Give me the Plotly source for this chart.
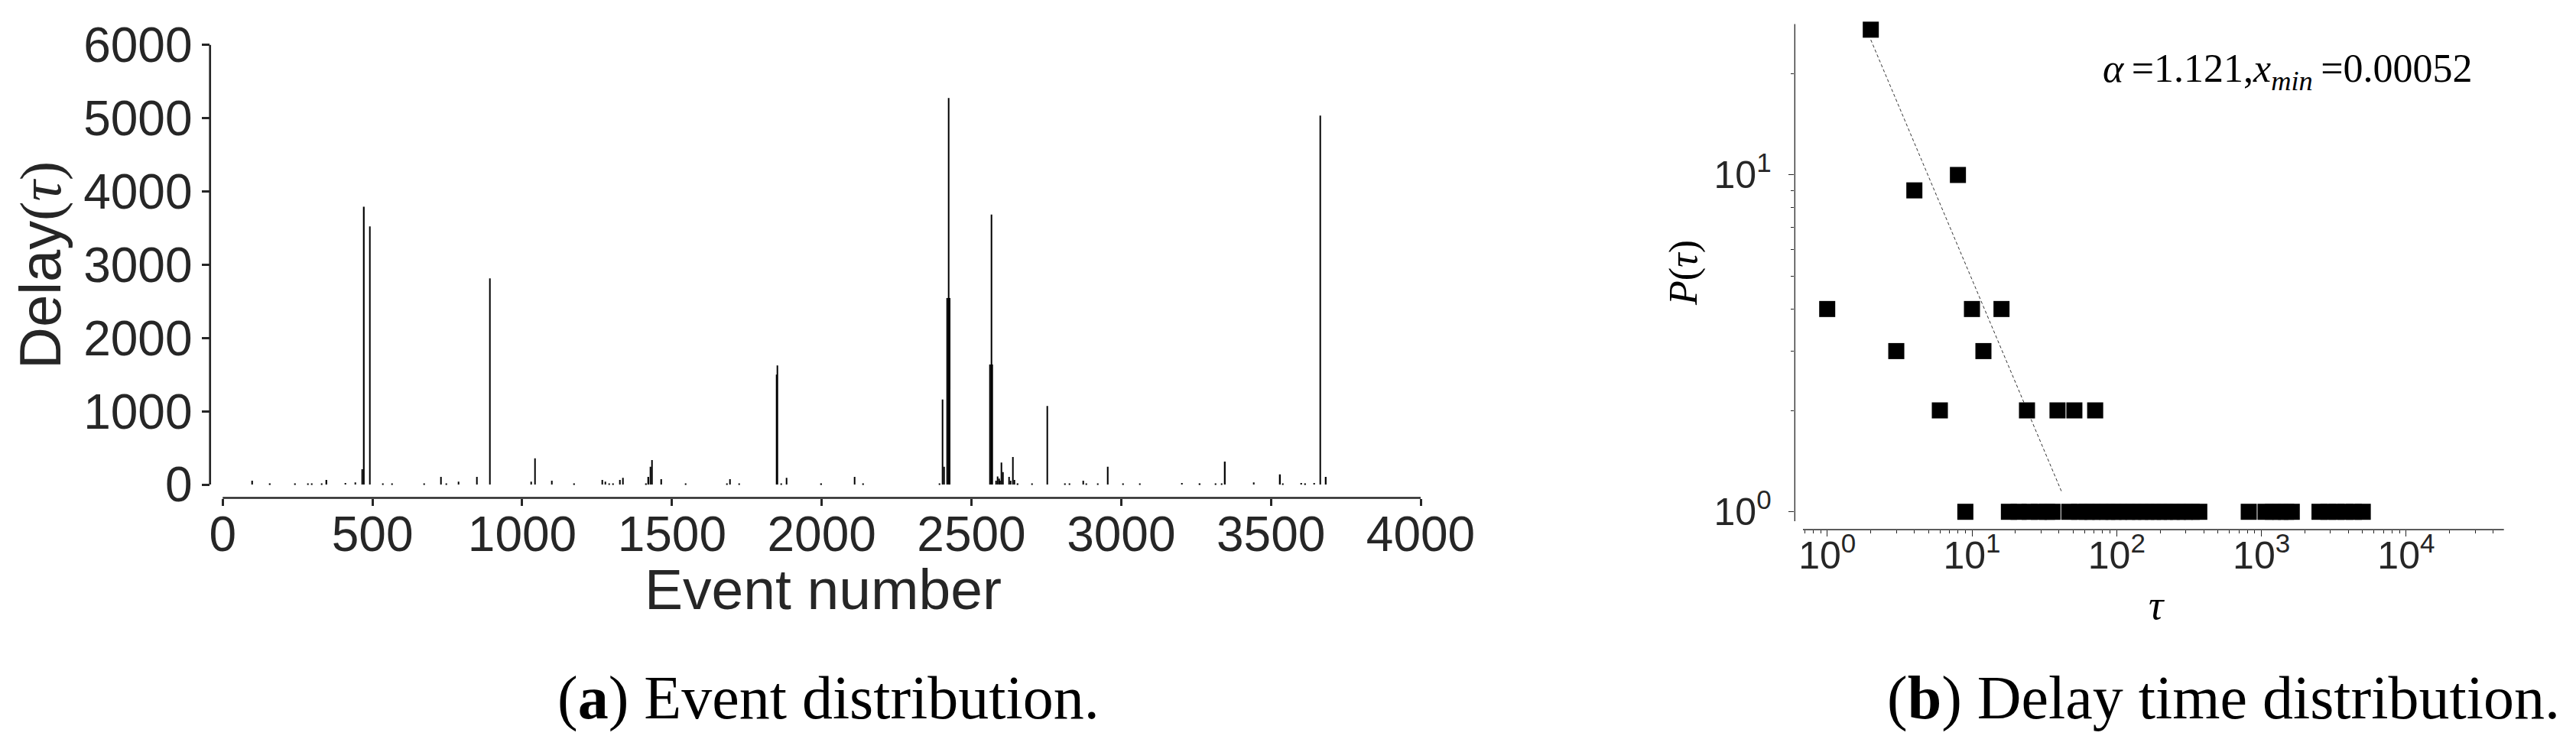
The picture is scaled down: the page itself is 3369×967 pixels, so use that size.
import plotly.graph_objects as go

W, H = 3369, 967

# ---- panel (a): delay per event (only the non-zero events) ----
event_num = [99, 158, 242, 285, 298, 331, 347, 409, 442, 465, 472, 492, 535, 565, 673,
             728, 747, 788, 848, 892, 1030, 1042, 1099, 1174, 1267, 1278, 1291, 1304, 1327,
             1336, 1414, 1422, 1428, 1433, 1465, 1545, 1683, 1693, 1724, 1850, 1852, 1865,
             1882, 1999, 2110, 2139, 2393, 2404, 2408, 2420, 2424, 2428, 2563, 2567, 2570,
             2583, 2588, 2592, 2596, 2601, 2605, 2625, 2631, 2639, 2644, 2655, 2702, 2754,
             2813, 2827, 2873, 2884, 2921, 2956, 3007, 3062, 3203, 3263, 3316, 3335, 3347,
             3442, 3531, 3540, 3602, 3615, 3645, 3664, 3684]
delay = [52, 10, 10, 10, 10, 13, 62, 21, 28, 208, 3790, 3521, 10, 10, 10,
         104, 15, 38, 104, 2814, 38, 358, 52, 10, 62, 38, 15, 15, 62,
         90, 15, 104, 243, 334, 73, 10, 15, 73, 10, 1500, 1625, 15,
         90, 10, 104, 10, 15, 1159, 243, 2545, 5275, 2545, 1638, 3684, 1638,
         52, 110, 80, 52, 299, 170, 104, 52, 375, 62, 10, 10, 1072,
         10, 15, 52, 15, 15, 243, 10, 10, 21, 10, 10, 15, 313,
         28, 139, 15, 21, 15, 21, 5033, 104]
x_ticks_a = [0, 500, 1000, 1500, 2000, 2500, 3000, 3500, 4000]
y_ticks_a = [0, 1000, 2000, 3000, 4000, 5000, 6000]

# ---- panel (b): delay time distribution ----
tau = [1, 2, 3, 4, 6, 8, 9, 10, 12, 16, 24, 39, 51, 71,
       18, 21, 25, 29, 33, 36,
       47, 55, 62, 68, 77, 86, 95, 104, 118, 130, 145, 160, 178, 196, 215, 240, 265, 295, 330, 372,
       817, 1067, 1200, 1350, 1480, 1620,
       2518, 2900, 3300, 3800, 4350, 5012]
p_tau = [4, 27, 3, 9, 2, 10, 1, 4, 3, 4, 2, 2, 2, 2,
         1, 1, 1, 1, 1, 1,
         1, 1, 1, 1, 1, 1, 1, 1, 1, 1, 1, 1, 1, 1, 1, 1, 1, 1, 1, 1,
         1, 1, 1, 1, 1, 1,
         1, 1, 1, 1, 1, 1]
fit_tau = [2.0, 41.7]
fit_p = [25.2, 1.145]
x_ticks_b = [1, 10, 100, 1000, 10000]
x_text_b = ["10<sup>0</sup>", "10<sup>1</sup>", "10<sup>2</sup>", "10<sup>3</sup>", "10<sup>4</sup>"]
y_ticks_b = [1, 10]
y_text_b = ["10<sup>0</sup>", "10<sup>1</sup>"]


def fx(px):
    return px / W


def fy(py):
    return 1 - py / H


SANS = "Liberation Sans, Arial, sans-serif"
SERIF = "Liberation Serif, Times New Roman, serif"
DARK = "#262626"

fig = go.Figure()

fig.add_trace(go.Bar(x=event_num, y=delay, width=3.5,
                     marker=dict(color="black", line=dict(width=0)),
                     xaxis="x", yaxis="y"))

# power-law fit line and the measured distribution
fig.add_trace(go.Scatter(x=fit_tau, y=fit_p, mode="lines",
                         line=dict(color="#333333", width=1, dash="4px,3px"),
                         xaxis="x2", yaxis="y2"))
fig.add_trace(go.Scatter(x=tau, y=p_tau, mode="markers", cliponaxis=False,
                         marker=dict(symbol="square", size=21, color="black", line=dict(width=0)),
                         xaxis="x2", yaxis="y2"))

minor_b = [m * 10 ** k for k in range(-1, 5) for m in range(2, 10)]
minor_b = [v for v in minor_b if 0.65 < v < 47000]

common = dict(showline=False, showgrid=False, zeroline=False, automargin=False, ticks="outside",
              tickcolor=DARK)

fig.update_layout(
    width=W, height=H,
    margin=dict(l=0, r=0, t=0, b=0, autoexpand=False),
    paper_bgcolor="white", plot_bgcolor="white",
    showlegend=False,
    xaxis=dict(domain=[fx(266.7), fx(1850)], range=[-42.4, 4000], anchor="y",
               tickvals=x_ticks_a, ticklen=9, tickwidth=2.7, ticklabelstandoff=-17,
               tickfont=dict(family=SANS, size=64, color=DARK), **common),
    yaxis=dict(domain=[fy(643.5), fy(50.6)], range=[-182.5, 6000], anchor="x",
               tickvals=y_ticks_a, ticklen=9.4, tickwidth=2.7,
               tickfont=dict(family=SANS, size=64, color=DARK), **common),
    xaxis2=dict(type="log", domain=[fx(2339.3), fx(3266.7)], range=[-0.224, 4.675], anchor="y2",
                tickvals=x_ticks_b, ticktext=x_text_b, ticklen=7.5, tickwidth=1.3,
                ticklabelstandoff=-18,
                minor=dict(tickvals=minor_b, ticks="outside", ticklen=4, tickwidth=1, tickcolor=DARK),
                tickfont=dict(family=SANS, size=50, color=DARK), **common),
    yaxis2=dict(type="log", domain=[fy(685), fy(23.5)], range=[-0.0529, 1.448], anchor="x2",
                tickvals=y_ticks_b, ticktext=y_text_b, ticklen=7.7, tickwidth=1.3,
                ticklabelstandoff=12,
                minor=dict(tickvals=[2, 3, 4, 5, 6, 7, 8, 9, 20], ticks="outside", ticklen=4,
                           tickwidth=1, tickcolor=DARK),
                tickfont=dict(family=SANS, size=50, color=DARK), **common),
)

# offset spines
fig.add_shape(type="line", xref="paper", yref="y", x0=fx(266.7), x1=fx(266.7), y0=0, y1=6000,
              line=dict(color=DARK, width=2.7))
fig.add_shape(type="line", xref="x", yref="paper", x0=0, x1=4000, y0=fy(643.5), y1=fy(643.5),
              line=dict(color=DARK, width=2.7))
fig.add_shape(type="line", xref="paper", yref="paper", x0=fx(2339.3), x1=fx(2339.3),
              y0=fy(674), y1=fy(23.5), line=dict(color=DARK, width=1.3))
fig.add_shape(type="line", xref="paper", yref="paper", x0=fx(2350), x1=fx(3266.7),
              y0=fy(685), y1=fy(685), line=dict(color=DARK, width=1.3))

ann = [
    dict(text='Delay<span style="font-family:Liberation Serif">(<i>τ</i>)</span>',
         x=fx(45), y=fy(339), textangle=-90, font=dict(family=SANS, size=76, color=DARK)),
    dict(text="Event number", x=fx(1068), y=fy(763), font=dict(family=SANS, size=75, color=DARK)),
    dict(text="(<b>a</b>) Event distribution.", x=fx(1075), y=fy(905),
         font=dict(family=SERIF, size=80, color="black")),
    dict(text="(<b>b</b>) Delay time distribution.", x=fx(2900), y=fy(905),
         font=dict(family=SERIF, size=80, color="black")),
    dict(text="<i>P</i>(<i>τ</i>)", x=fx(2194), y=fy(349), textangle=-90,
         font=dict(family=SERIF, size=52, color="black")),
    dict(text="<i>τ</i>", x=fx(2812), y=fy(784), font=dict(family=SERIF, size=54, color="black")),
    dict(text="<i>α</i>\u2009=1.121,<i>x</i><sub><i>min</i></sub>\u2009=0.00052",
         x=fx(2740), y=fy(85), xanchor="left", font=dict(family=SERIF, size=52, color="black")),
]
for a in ann:
    a.setdefault("xanchor", "center")
    fig.add_annotation(xref="paper", yref="paper", yanchor="middle", showarrow=False, **a)

fig.write_html("out.html")
